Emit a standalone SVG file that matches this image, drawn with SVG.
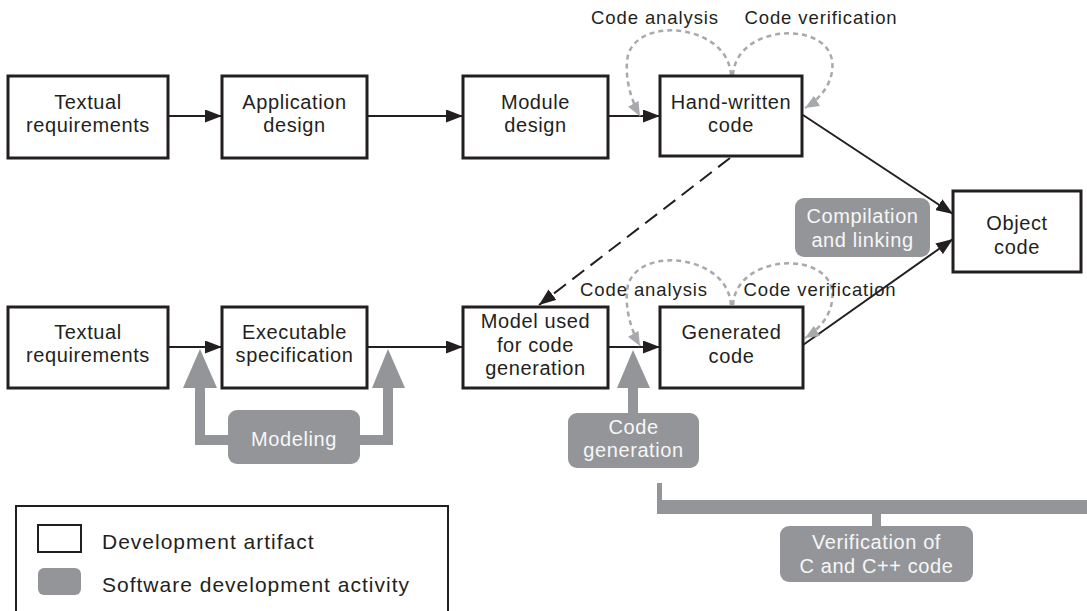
<svg xmlns="http://www.w3.org/2000/svg" width="1087" height="611" viewBox="0 0 1087 611">
<style>
.box{fill:#fff;stroke:#231f20;stroke-width:3}
.t{font-family:"Liberation Sans",Arial,sans-serif;font-size:20px;fill:#231f20;text-anchor:middle;letter-spacing:0.6px}
.w{font-family:"Liberation Sans",Arial,sans-serif;font-size:20px;fill:#f7f7f7;text-anchor:middle;letter-spacing:0.6px}
.lbl{font-family:"Liberation Sans",Arial,sans-serif;font-size:18.5px;fill:#231f20;text-anchor:middle;letter-spacing:0.9px}
.leg{font-family:"Liberation Sans",Arial,sans-serif;font-size:21px;fill:#231f20;letter-spacing:1px}
.act{fill:#939598}
.arr{fill:none;stroke:#231f20;stroke-width:2;marker-end:url(#ah)}
.dash{fill:none;stroke:#231f20;stroke-width:2;stroke-dasharray:15 8;marker-end:url(#ah)}
.dot{fill:none;stroke:#a7a9ac;stroke-width:2.5;stroke-dasharray:5 4;marker-end:url(#gh)}
</style>
<defs>
<marker id="ah" markerUnits="userSpaceOnUse" markerWidth="17" markerHeight="13" refX="17" refY="6.5" orient="auto"><path d="M0,0 L17,6.5 L0,13 z" fill="#231f20"/></marker>
<marker id="gh" markerUnits="userSpaceOnUse" markerWidth="14" markerHeight="12" refX="14" refY="6" orient="auto"><path d="M0,0 L14,6 L0,12 z" fill="#a7a9ac"/></marker>
</defs>
<rect width="1087" height="611" fill="#fff"/>

<g id="connectors">
<line class="arr" x1="168" y1="116" x2="222" y2="116"/>
<line class="arr" x1="367" y1="116" x2="463" y2="116"/>
<line class="arr" x1="608" y1="116" x2="660" y2="116"/>
<line class="arr" x1="168" y1="347" x2="222" y2="347"/>
<line class="arr" x1="367" y1="347" x2="463" y2="347"/>
<line class="arr" x1="608" y1="347" x2="660" y2="347"/>
<line class="arr" x1="803" y1="115" x2="953" y2="214"/>
<line class="arr" x1="803" y1="345" x2="953" y2="239"/>
<line class="dash" x1="730" y1="158" x2="539" y2="305"/>
<path class="dot" d="M731 75 C728 25 640 15 628 55 C624 75 630 98 640 116"/>
<path class="dot" d="M733 75 C736 25 825 20 832 60 C835 80 822 98 805 108"/>
<path class="dot" d="M731 305 C728 255 640 245 628 285 C624 305 630 328 640 346"/>
<path class="dot" d="M733 305 C736 255 825 250 832 290 C835 310 822 328 805 338"/>
</g>

<g id="labels">
<text class="lbl" x="655" y="24">Code analysis</text>
<text class="lbl" x="821" y="24">Code verification</text>
<text class="lbl" x="644" y="296">Code analysis</text>
<text class="lbl" x="820" y="296">Code verification</text>
</g>

<g id="n-textual-top"><rect class="box" x="8" y="76" width="160" height="82"/>
<text class="t" x="88" y="109">Textual</text><text class="t" x="88" y="132">requirements</text></g>
<g id="n-app-design"><rect class="box" x="222" y="76" width="145" height="82"/>
<text class="t" x="294.5" y="109">Application</text><text class="t" x="294.5" y="132">design</text></g>
<g id="n-module-design"><rect class="box" x="463" y="76" width="145" height="82"/>
<text class="t" x="535.5" y="109">Module</text><text class="t" x="535.5" y="132">design</text></g>
<g id="n-handwritten"><rect class="box" x="660" y="76" width="142" height="80"/>
<text class="t" x="731" y="109">Hand-written</text><text class="t" x="731" y="132">code</text></g>

<g id="n-textual-bottom"><rect class="box" x="8" y="307" width="160" height="81"/>
<text class="t" x="88" y="339">Textual</text><text class="t" x="88" y="362">requirements</text></g>
<g id="n-exec-spec"><rect class="box" x="222" y="307" width="145" height="81"/>
<text class="t" x="294.5" y="339">Executable</text><text class="t" x="294.5" y="362">specification</text></g>
<g id="n-model"><rect class="box" x="463" y="307" width="145" height="81"/>
<text class="t" x="535.5" y="328">Model used</text><text class="t" x="535.5" y="352">for code</text><text class="t" x="535.5" y="375">generation</text></g>
<g id="n-generated"><rect class="box" x="660" y="307" width="143" height="81"/>
<text class="t" x="731.5" y="339">Generated</text><text class="t" x="731.5" y="363">code</text></g>

<g id="n-object"><rect class="box" x="953" y="191" width="128" height="81"/>
<text class="t" x="1017" y="230">Object</text><text class="t" x="1017" y="254">code</text></g>

<g id="a-compilation"><rect class="act" x="795" y="198" width="135" height="59" rx="9"/>
<text class="w" x="862.5" y="223">Compilation</text><text class="w" x="862.5" y="247">and linking</text></g>

<g id="a-modeling">
<path class="act" d="M183 388 L200 349 L217 388 L205 388 L205 435 L230 435 L230 445 L195 445 L195 388 Z"/>
<path class="act" d="M372 388 L388 349 L405 388 L393 388 L393 445 L358 445 L358 435 L383 435 L383 388 Z"/>
<rect class="act" x="228" y="410" width="132" height="54" rx="9"/>
<text class="w" x="294" y="446">Modeling</text></g>

<g id="a-codegen">
<path class="act" d="M617 388 L633 350 L650 388 L638 388 L638 415 L628 415 L628 388 Z"/>
<rect class="act" x="568" y="413" width="131" height="55" rx="9"/>
<text class="w" x="633.5" y="434">Code</text><text class="w" x="633.5" y="457">generation</text></g>

<g id="a-verification">
<rect class="act" x="657" y="483" width="5" height="20"/>
<rect class="act" x="657" y="500" width="430" height="14"/>
<rect class="act" x="872" y="512" width="9" height="16"/>
<rect class="act" x="780" y="526" width="193" height="56" rx="9"/>
<text class="w" x="876.5" y="549">Verification of</text><text class="w" x="876.5" y="573">C and C++ code</text></g>

<g id="legend">
<rect x="16" y="506" width="432" height="130" fill="#fff" stroke="#231f20" stroke-width="2"/>
<rect x="38" y="525" width="43" height="27" fill="#fff" stroke="#231f20" stroke-width="2"/>
<text class="leg" x="102" y="549">Development artifact</text>
<rect class="act" x="38" y="568" width="43" height="27" rx="6"/>
<text class="leg" x="102" y="592">Software development activity</text>
</g>
</svg>
